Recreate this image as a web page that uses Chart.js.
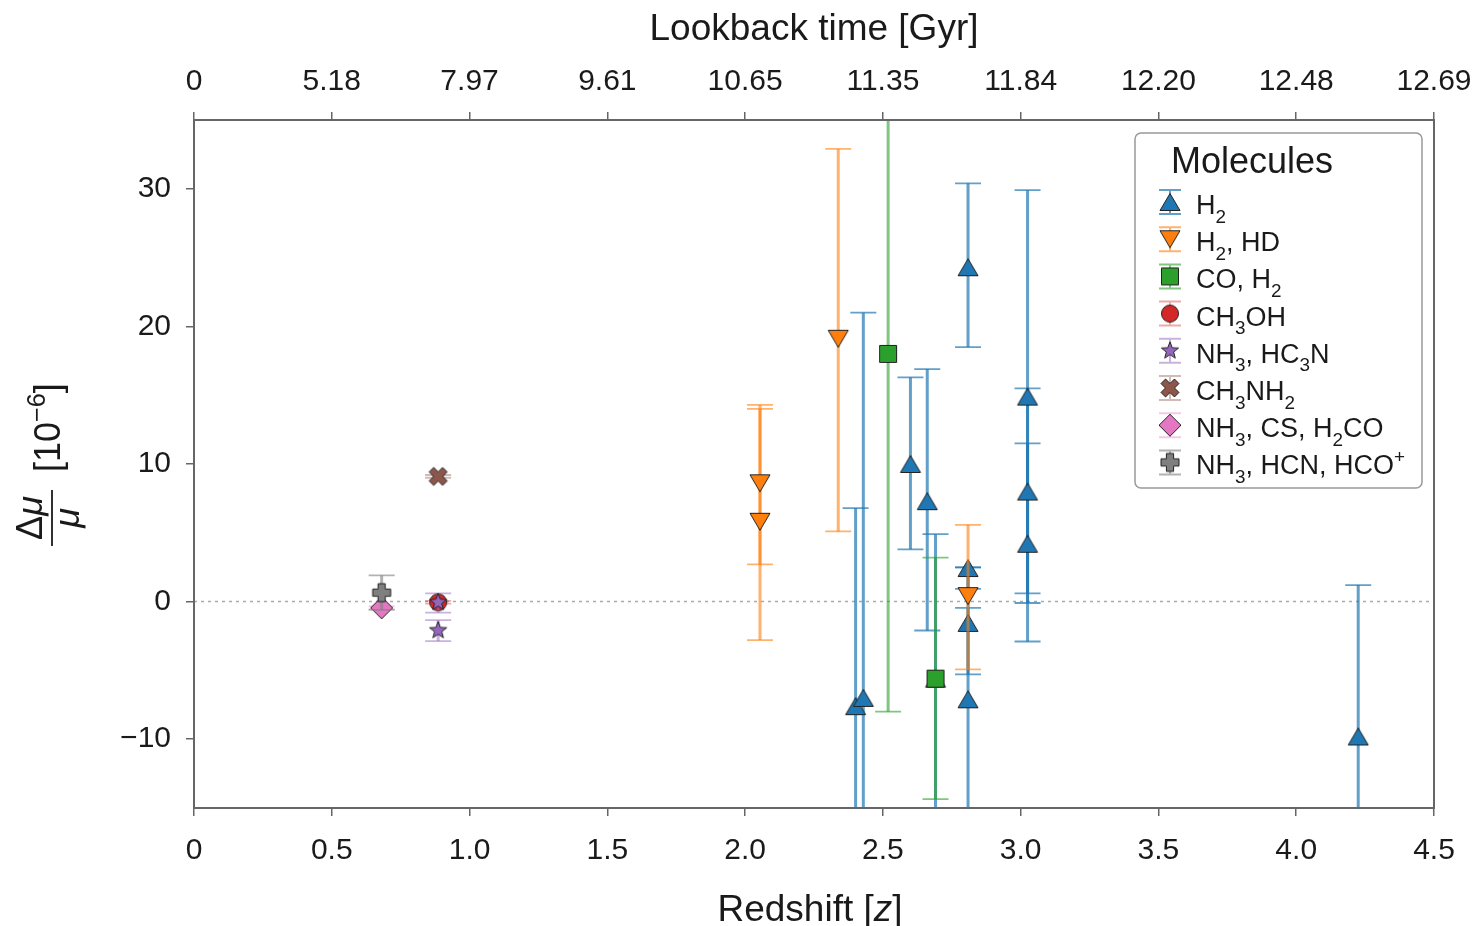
<!DOCTYPE html>
<html>
<head>
<meta charset="utf-8">
<script src="https://cdn.jsdelivr.net/npm/chart.js@4.4.1/dist/chart.umd.min.js"></script>
<style>
  html, body { margin: 0; padding: 0; background: #fff; }
  canvas { display: block; }
</style>
</head>
<body>
<canvas id="chart" width="1477" height="926"></canvas>
<script>
const FONT = '"Liberation Sans", Arial, Helvetica, sans-serif';

// ─── axis ticks ──────────────────────────────────────────────────────────────
const zTicks = [0, 0.5, 1, 1.5, 2, 2.5, 3, 3.5, 4, 4.5];
const zTickLabels = ['0', '0.5', '1.0', '1.5', '2.0', '2.5', '3.0', '3.5', '4.0', '4.5'];
const lookbackLabels = ['0', '5.18', '7.97', '9.61', '10.65', '11.35', '11.84', '12.20', '12.48', '12.69'];
const yTicks = [-10, 0, 10, 20, 30];
const yTickLabels = ['\u221210', '0', '10', '20', '30'];

// ─── measurements: [z, Δμ/μ, lower end, upper end]  (units of 1e-6) ─────────
const h2 = [
  [2.401, -7.6, -22.0, 6.8],
  [2.429, -7.0, -35.0, 21.0],
  [2.600, 10.0, 3.8, 16.3],
  [2.661, 7.3, -2.1, 16.9],
  [2.691, -5.6, -16.1, 4.9],
  [2.809, 24.3, 18.5, 30.4],
  [2.809, 2.44, 0.92, 2.49],
  [2.809, -1.55, -5.29, -0.46],
  [2.809, -7.1, -16.7, 2.49],
  [3.025, 14.9, -0.1, 29.9],
  [3.025, 8.0, 0.6, 15.5],
  [3.025, 4.2, -2.9, 11.5],
  [4.225, -9.8, -20.8, 1.2],
];
const h2hd = [
  [2.054, 8.6, 2.7, 14.0],
  [2.054, 5.8, -2.8, 14.3],
  [2.338, 19.1, 5.1, 32.9],
  [2.809, 0.4, -4.93, 5.58],
];
const coH2 = [
  [2.519, 18.0, -8.0, 44.0],
  [2.691, -5.6, -14.35, 3.2],
];
const ch3oh = [
  [0.886, -0.05, -0.15, 0.05],
];
const nh3Hc3n = [
  [0.886, -0.05, -0.8, 0.6],
  [0.886, -2.1, -2.87, -1.35],
];
const ch3nh2 = [
  [0.886, 9.1, 9.0, 9.2],
];
const nh3CsH2co = [
  [0.681, -0.45, -0.55, -0.35],
];
const nh3HcnHco = [
  [0.681, 0.65, -0.6, 1.9],
];

// legend text, split into runs: [text, 'sub' | 'sup' | 'it' | undefined]
const legendLabels = [
  [['H'], ['2', 'sub']],
  [['H'], ['2', 'sub'], [', HD']],
  [['CO, H'], ['2', 'sub']],
  [['CH'], ['3', 'sub'], ['OH']],
  [['NH'], ['3', 'sub'], [', HC'], ['3', 'sub'], ['N']],
  [['CH'], ['3', 'sub'], ['NH'], ['2', 'sub']],
  [['NH'], ['3', 'sub'], [', CS, H'], ['2', 'sub'], ['CO']],
  [['NH'], ['3', 'sub'], [', HCN, HCO'], ['+', 'sup']],
];

// ─── marker sprites ──────────────────────────────────────────────────────────
function makeMarker(shape, fill) {
  const c = document.createElement('canvas');
  c.width = c.height = 28;
  const g = c.getContext('2d');
  const m = 14;
  g.beginPath();
  if (shape === 'triUp') {
    g.moveTo(m, m - 8.5); g.lineTo(m + 10, m + 8.5); g.lineTo(m - 10, m + 8.5);
  } else if (shape === 'triDown') {
    g.moveTo(m, m + 8.5); g.lineTo(m + 10, m - 8.5); g.lineTo(m - 10, m - 8.5);
  } else if (shape === 'square') {
    g.rect(m - 8.5, m - 8.5, 17, 17);
  } else if (shape === 'circle') {
    g.arc(m, m, 8.5, 0, Math.PI * 2);
  } else if (shape === 'diamond') {
    g.moveTo(m, m - 11); g.lineTo(m + 11, m); g.lineTo(m, m + 11); g.lineTo(m - 11, m);
  } else if (shape === 'star') {
    for (let i = 0; i < 10; i++) {
      const r = i % 2 ? 3.8 : 9;
      const a = -Math.PI / 2 + i * Math.PI / 5;
      g.lineTo(m + r * Math.cos(a), m + r * Math.sin(a));
    }
  } else if (shape === 'plus' || shape === 'x') {
    const w = shape === 'x' ? 3.2 : 3.6, L = shape === 'x' ? 9.5 : 9;
    const pts = [[-w, -L], [w, -L], [w, -w], [L, -w], [L, w], [w, w], [w, L], [-w, L], [-w, w], [-L, w], [-L, -w], [-w, -w]];
    const rot = shape === 'x' ? Math.PI / 4 : 0;
    pts.forEach(([px, py]) => {
      g.lineTo(m + px * Math.cos(rot) - py * Math.sin(rot), m + px * Math.sin(rot) + py * Math.cos(rot));
    });
  }
  g.closePath();
  g.fillStyle = fill;
  g.fill();
  g.lineWidth = 1;
  g.strokeStyle = '#222';
  g.stroke();
  return c;
}

const seriesList = [
  { rows: h2,        color: '#1f77b4', err: 'rgba(31,119,180,0.7)',  shape: 'triUp' },
  { rows: h2hd,      color: '#ff7f0e', err: 'rgba(255,127,14,0.6)',  shape: 'triDown' },
  { rows: coH2,      color: '#2ca02c', err: 'rgba(44,160,44,0.6)',   shape: 'square' },
  { rows: ch3oh,     color: '#d62728', err: 'rgba(214,39,40,0.4)',   shape: 'circle' },
  { rows: nh3Hc3n,   color: '#9467bd', err: 'rgba(148,103,189,0.5)', shape: 'star' },
  { rows: ch3nh2,    color: '#8c564b', err: 'rgba(140,86,75,0.4)',   shape: 'x' },
  { rows: nh3CsH2co, color: '#e377c2', err: 'rgba(227,119,194,0.4)', shape: 'diamond' },
  { rows: nh3HcnHco, color: '#7f7f7f', err: 'rgba(127,127,127,0.6)', shape: 'plus' },
];
seriesList.forEach(s => { s.sprite = makeMarker(s.shape, s.color); });

const datasets = seriesList.map((s, i) => ({
  data: s.rows.map(r => ({ x: r[0], y: r[1], lo: r[2], hi: r[3] })),
  pointStyle: s.sprite,
  pointRadius: 10,
  errColor: s.err,
  order: 50 - i,          // later series on top
}));

// dotted zero reference
datasets.push({
  type: 'line',
  data: [{ x: zTicks[0], y: 0 }, { x: zTicks[zTicks.length - 1], y: 0 }],
  borderColor: '#aaa',
  borderWidth: 1.5,
  borderDash: [3, 4],
  pointRadius: 0,
  order: 100,
});

// ─── text helper with sub/superscripts ───────────────────────────────────────
function drawRich(ctx, parts, x, y, size) {
  let cx = x;
  parts.forEach(([t, kind]) => {
    const small = kind === 'sub' || kind === 'sup';
    const s = small ? size * 0.7 : size;
    const dy = kind === 'sub' ? size * 0.32 : kind === 'sup' ? -size * 0.42 : 0;
    ctx.font = `${kind === 'it' ? 'italic ' : ''}${s}px ${FONT}`;
    ctx.fillText(t, cx, y + dy);
    cx += ctx.measureText(t).width;
  });
  return cx - x;
}
function richWidth(ctx, parts, size) {
  let w = 0;
  parts.forEach(([t, kind]) => {
    const small = kind === 'sub' || kind === 'sup';
    ctx.font = `${kind === 'it' ? 'italic ' : ''}${small ? size * 0.7 : size}px ${FONT}`;
    w += ctx.measureText(t).width;
  });
  return w;
}

// ─── plugins ─────────────────────────────────────────────────────────────────
const errorBars = {
  id: 'errorBars',
  beforeDatasetDraw(chart, args) {
    const ds = chart.data.datasets[args.index];
    if (!ds.errColor) return;
    const { ctx, chartArea: a, scales: { x, y } } = chart;
    ctx.save();
    ctx.beginPath();
    ctx.rect(a.left, a.top, a.right - a.left, a.bottom - a.top);
    ctx.clip();
    ctx.strokeStyle = ds.errColor;
    ds.data.forEach(p => {
      const px = x.getPixelForValue(p.x);
      const y0 = y.getPixelForValue(p.lo), y1 = y.getPixelForValue(p.hi);
      ctx.lineWidth = 3;
      ctx.beginPath(); ctx.moveTo(px, y0); ctx.lineTo(px, y1); ctx.stroke();
      ctx.lineWidth = 1.8;
      ctx.beginPath();
      [y0, y1].forEach(yy => { ctx.moveTo(px - 13, yy); ctx.lineTo(px + 13, yy); });
      ctx.stroke();
    });
    ctx.restore();
  },
};

const decorations = {
  id: 'decorations',
  afterDraw(chart) {
    const { ctx, chartArea: a } = chart;
    const midX = (a.left + a.right) / 2, midY = (a.top + a.bottom) / 2;
    ctx.save();

    // frame
    ctx.strokeStyle = '#666';
    ctx.lineWidth = 2;
    ctx.strokeRect(a.left, a.top, a.right - a.left, a.bottom - a.top);

    // axis titles
    ctx.fillStyle = '#1a1a1a';
    ctx.textBaseline = 'alphabetic';
    const topTitle = [['Lookback time [Gyr]']];
    drawRich(ctx, topTitle, midX - richWidth(ctx, topTitle, 37) / 2, 40, 37);
    const botTitle = [['Redshift ['], ['z', 'it'], [']']];
    drawRich(ctx, botTitle, midX - 4 - richWidth(ctx, botTitle, 37) / 2, 921, 37);

    // rotated y title: Δμ/μ [10^-6]
    ctx.save();
    ctx.translate(52, midY);
    ctx.rotate(-Math.PI / 2);
    const num = [['\u0394'], ['\u03bc', 'it']];
    const nw = richWidth(ctx, num, 36);
    drawRich(ctx, num, -54 - nw / 2, -10, 36);
    const den = [['\u03bc', 'it']];
    const dw = richWidth(ctx, den, 36);
    drawRich(ctx, den, -54 - dw / 2, 27, 36);
    ctx.strokeStyle = '#1a1a1a';
    ctx.lineWidth = 1.8;
    ctx.beginPath(); ctx.moveTo(-82, 0); ctx.lineTo(-26, 0); ctx.stroke();
    drawRich(ctx, [['[10'], ['\u22126', 'sup'], [']']], -8, 8, 36);
    ctx.restore();

    // legend
    const lx = 1135, ly = 133, lw = 287, lh = 355;
    ctx.beginPath();
    ctx.roundRect(lx, ly, lw, lh, 6);
    ctx.fillStyle = 'rgba(255,255,255,0.85)';
    ctx.fill();
    ctx.strokeStyle = '#999';
    ctx.lineWidth = 1.5;
    ctx.stroke();

    ctx.fillStyle = '#1a1a1a';
    ctx.font = `36px ${FONT}`;
    ctx.textAlign = 'center';
    ctx.fillText('Molecules', 1252, 173);
    ctx.textAlign = 'left';

    seriesList.forEach((s, i) => {
      const cy = 202 + i * 37.2, mx = 1170;
      ctx.strokeStyle = s.err;
      ctx.lineWidth = 2;
      ctx.beginPath();
      ctx.moveTo(mx, cy - 12); ctx.lineTo(mx, cy + 12);
      ctx.moveTo(mx - 11, cy - 12); ctx.lineTo(mx + 11, cy - 12);
      ctx.moveTo(mx - 11, cy + 12); ctx.lineTo(mx + 11, cy + 12);
      ctx.stroke();
      ctx.drawImage(s.sprite, mx - s.sprite.width / 2, cy - s.sprite.height / 2);
      ctx.fillStyle = '#1a1a1a';
      drawRich(ctx, legendLabels[i], 1196, cy + 12, 27);
    });
    ctx.restore();
  },
};

// ─── chart ───────────────────────────────────────────────────────────────────
const tickGrid = { drawOnChartArea: false, drawTicks: true, tickLength: 8, color: '#666', lineWidth: 1.5 };
const tickFont = { family: FONT, size: 30 };
function noOverhangX(s, h) { s.height = h; s.paddingLeft = 0; s.paddingRight = 0; }

new Chart(document.getElementById('chart'), {
  type: 'scatter',
  data: { datasets },
  options: {
    responsive: false,
    animation: false,
    events: [],
    layout: { padding: { left: 0, right: 43, top: 0, bottom: 0 } },
    plugins: { legend: { display: false }, tooltip: { enabled: false } },
    scales: {
      x: {
        type: 'linear', position: 'bottom', min: 0, max: 4.5,
        afterBuildTicks(s) { s.ticks = zTicks.map(v => ({ value: v })); },
        ticks: { font: tickFont, color: '#1a1a1a', padding: 17, maxRotation: 0,
                 callback: (v, i) => zTickLabels[i] },
        grid: tickGrid, border: { display: false },
        afterFit(s) { noOverhangX(s, 118); },
      },
      x2: {
        type: 'linear', position: 'top', min: 0, max: 4.5,
        afterBuildTicks(s) { s.ticks = zTicks.map(v => ({ value: v })); },
        ticks: { font: tickFont, color: '#1a1a1a', padding: 12, maxRotation: 0,
                 callback: (v, i) => lookbackLabels[i] },
        grid: tickGrid, border: { display: false },
        afterFit(s) { noOverhangX(s, 120); },
      },
      y: {
        type: 'linear', min: -15, max: 35,
        afterBuildTicks(s) { s.ticks = yTicks.map(v => ({ value: v })); },
        ticks: { font: tickFont, color: '#1a1a1a', padding: 15,
                 callback: (v, i) => yTickLabels[i] },
        grid: tickGrid, border: { display: false },
        afterFit(s) { s.width = 194; s.paddingTop = 0; s.paddingBottom = 0; },
      },
    },
  },
  plugins: [errorBars, decorations],
});
</script>
</body>
</html>
